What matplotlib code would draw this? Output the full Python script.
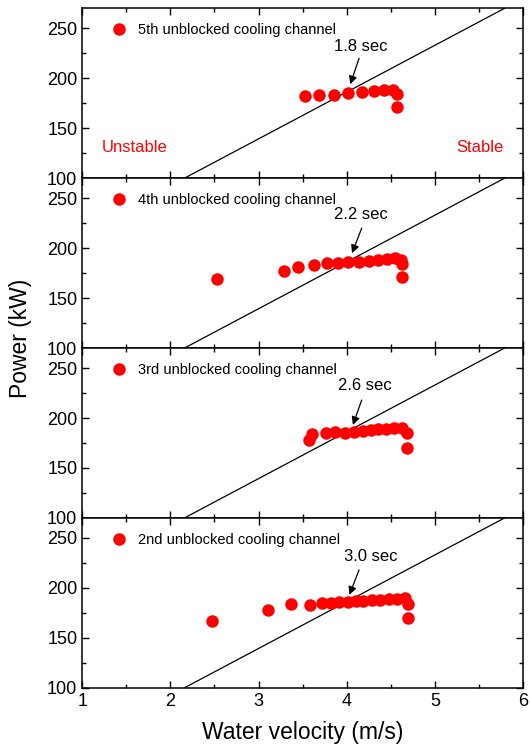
import numpy as np
import matplotlib
matplotlib.use('Agg')
import matplotlib.pyplot as plt
from matplotlib.ticker import MultipleLocator

plt.rcParams['font.family'] = ['Liberation Sans', 'DejaVu Sans']

labels = ['5th unblocked cooling channel', '4th unblocked cooling channel',
          '3rd unblocked cooling channel', '2nd unblocked cooling channel']
times = ['1.8 sec', '2.2 sec', '2.6 sec', '3.0 sec']

v5 = [3.53, 3.69, 3.86, 4.01, 4.17, 4.31, 4.42, 4.53, 4.57, 4.57]
p5 = [182, 183, 183.5, 185.5, 186.5, 187.5, 188.5, 188.5, 184, 171]

v4 = [2.53, 3.29, 3.45, 3.63, 3.78, 3.90, 4.02, 4.14, 4.25, 4.36, 4.46, 4.55, 4.61, 4.63, 4.63]
p4 = [169, 177, 181.3, 183.3, 185.3, 185.3, 186, 186.3, 187, 188, 188.7, 189.7, 188, 183.7, 171.3]

v3 = [3.57, 3.61, 3.76, 3.87, 3.98, 4.08, 4.18, 4.27, 4.36, 4.45, 4.54, 4.63, 4.68, 4.68]
p3 = [178, 183.7, 184.7, 185.7, 184.7, 186.3, 187.3, 188, 188.7, 189, 189.7, 190.3, 184.7, 170.3]

v2 = [2.47, 3.11, 3.37, 3.58, 3.72, 3.82, 3.91, 4.01, 4.10, 4.19, 4.29, 4.38, 4.48, 4.57, 4.66, 4.70, 4.70]
p2 = [167.3, 177.7, 183.7, 183, 184.7, 185.3, 186, 186.3, 187, 187.3, 188, 188.3, 188.7, 189.3, 189.7, 183.7, 170.3]

# stability boundary line
line_v = [2.16, 5.79]
line_p = [100, 270]

vs = [v5, v4, v3, v2]
ps = [p5, p4, p3, p2]
# text pos, arrow start, arrow tip
text_pos = [(4.16, 232), (4.16, 234), (4.2, 233), (4.27, 231)]
arrow_from = [(4.14, 220), (4.17, 220), (4.17, 218), (4.14, 218)]
arrow_to = [(4.04, 194), (4.06, 195), (4.07, 193), (4.03, 193)]

fig, axes = plt.subplots(4, 1, figsize=(5.3, 7.55), dpi=100, sharex=True)
fig.subplots_adjust(left=0.155, right=0.987, bottom=0.089, top=0.989, hspace=0)

for i, ax in enumerate(axes):
    ax.plot(line_v, line_p, color='black', lw=0.9)
    ax.plot(vs[i], ps[i], 'o', color='red', ms=9, mec='none', label=labels[i])
    ax.set_xlim(1, 6)
    ax.set_ylim(100, 270)
    ax.xaxis.set_major_locator(MultipleLocator(1))
    ax.xaxis.set_minor_locator(MultipleLocator(0.5))
    ax.yaxis.set_major_locator(MultipleLocator(50))
    ax.yaxis.set_minor_locator(MultipleLocator(25))
    ax.tick_params(which='both', direction='in', top=True, right=True, labelsize=13)
    ax.tick_params(which='major', length=5, width=1)
    ax.tick_params(which='minor', length=3, width=1)
    for s in ax.spines.values():
        s.set_linewidth(1.1)
    ax.legend(loc='upper left', frameon=False, fontsize=10.5, handletextpad=0.25,
              borderaxespad=0, bbox_to_anchor=(0.038, 0.945))
    ax.text(*text_pos[i], times[i], fontsize=12, ha='center', va='center')
    ax.annotate('', xy=arrow_to[i], xytext=arrow_from[i],
                arrowprops=dict(arrowstyle='-|>', color='black', lw=0.9, shrinkA=0, shrinkB=0,
                                mutation_scale=12))

axes[0].text(1.6, 131, 'Unstable', color='red', fontsize=12, ha='center', va='center')
axes[0].text(5.51, 131, 'Stable', color='red', fontsize=12, ha='center', va='center')

axes[-1].set_xlabel('Water velocity (m/s)', fontsize=16.5, labelpad=8)
fig.text(0.038, 0.552, 'Power (kW)', rotation=90, fontsize=16.5, ha='center', va='center')

fig.savefig('out.png', dpi=100)
